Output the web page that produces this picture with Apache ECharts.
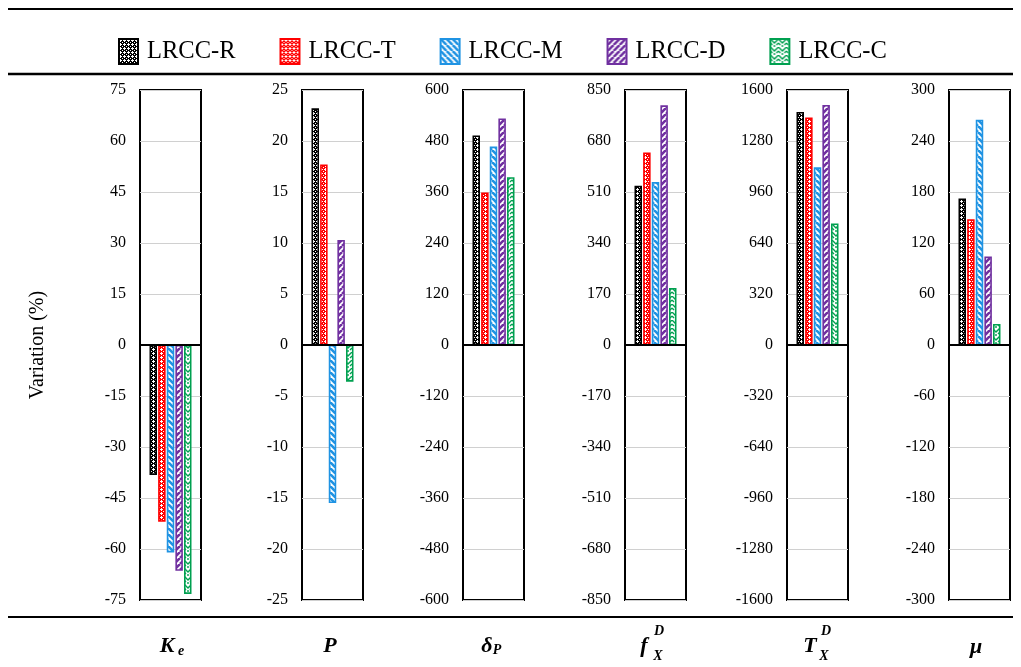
<!DOCTYPE html>
<html><head><meta charset="utf-8">
<script src="https://cdn.jsdelivr.net/npm/echarts@6/dist/echarts.min.js"></script>
<style>html,body{margin:0;padding:0;background:#fff}#c{width:1021px;height:667px}</style>
</head><body><div id="c"></div>
<script>
const seriesNames = ['LRCC-R','LRCC-T','LRCC-M','LRCC-D','LRCC-C'];
const panelMax = [75, 25, 600, 850, 1600, 300];
const panelInterval = [15, 5, 120, 170, 320, 60];
const valsR = [-38.2, 23.2, 493, 531, 1462, 172.5];
const valsT = [-52, 17.7, 359, 642, 1428, 148];
const valsM = [-61, -15.5, 467, 543, 1115, 265];
const valsD = [-66.4, 10.3, 533, 799, 1506, 104];
const valsC = [-73.2, -3.6, 395, 190, 763, 24.7];
const allVals = [valsR, valsT, valsM, valsD, valsC];
const colors = ['#000000', '#ff0000', '#1f93e3', '#7030a0', '#00a050'];

function pat(kind, color) {
  const c = document.createElement('canvas');
  const ctx = c.getContext('2d');
  if (kind === 'dots') {
    c.width = 4; c.height = 4;
    ctx.fillStyle = color; ctx.fillRect(0,0,4,4);
    ctx.fillStyle = '#fff';
    [[1,0],[0,1],[1,1],[2,1],[1,2],[3,3]].forEach(p=>ctx.fillRect(p[0],p[1],1,1));
  } else if (kind === 'back' || kind === 'fwd') {
    c.width = 6; c.height = 6;
    ctx.fillStyle = '#fff'; ctx.fillRect(0,0,6,6);
    ctx.strokeStyle = color; ctx.lineWidth = 2.6;
    for (let k=-6;k<=6;k+=6){
      ctx.beginPath();
      if (kind==='back'){ctx.moveTo(k,0);ctx.lineTo(k+6,6);}
      else {ctx.moveTo(k,6);ctx.lineTo(k+6,0);}
      ctx.stroke();
    }
  } else {
    c.width = 8; c.height = 8;
    ctx.fillStyle = '#fff'; ctx.fillRect(0,0,8,8);
    ctx.strokeStyle = color; ctx.lineWidth = 1.4;
    ctx.beginPath();
    ctx.moveTo(0,0);ctx.lineTo(4,4);ctx.lineTo(8,0);
    ctx.moveTo(0,4);ctx.lineTo(2,6);ctx.moveTo(8,4);ctx.lineTo(6,6);
    ctx.moveTo(4,6);ctx.lineTo(4,8);
    ctx.stroke();
  }
  return {image: c, repeat: 'repeat'};
}
const kinds = ['dots','dots','back','fwd','weave'];
const fills = kinds.map((k,i)=>pat(k, colors[i]));

const grids=[], xAxes=[], yAxes=[], series=[];
const lefts = [140, 302, 463, 625, 787, 949];
for (let p=0;p<6;p++){
  grids.push({left: lefts[p], top: 90, width: 61, height: 510, show: true, borderColor: '#000', borderWidth: 2, backgroundColor: 'transparent', containLabel: false});
  xAxes.push({gridIndex: p, type: 'category', data: ['v'], axisLabel:{show:false}, axisTick:{show:false},
    axisLine:{show:true, onZero:true, lineStyle:{color:'#000', width:2}}, z: 5});
  yAxes.push({gridIndex: p, type: 'value', min: -panelMax[p], max: panelMax[p], interval: panelInterval[p],
    axisLine:{show:false}, axisTick:{show:false},
    splitLine:{show:true, lineStyle:{color:'#d0d0d0', width:1}},
    axisLabel:{fontFamily:'Liberation Serif', fontSize:16, color:'#000', margin:14, formatter: v => String(v)}});
  for (let s=0;s<5;s++){
    series.push({name: seriesNames[s], type:'bar', xAxisIndex:p, yAxisIndex:p,
      data:[allVals[s][p]], barWidth:7.5, barGap:'15%',
      itemStyle:{color: fills[s], borderColor: colors[s], borderWidth:1.6},
      emphasis:{disabled:true}, animation:false});
  }
}

const lab = (txt, x, y, size) => ({type:'text', x, y, style:{text: txt, font: 'italic bold ' + size + 'px "Liberation Serif"', fill:'#000', textAlign:'center', textVerticalAlign:'middle'}});
const graphic = [
  {type:'line', shape:{x1:8,y1:9,x2:1013,y2:9}, style:{stroke:'#000', lineWidth:2}},
  {type:'line', shape:{x1:8,y1:74,x2:1013,y2:74}, style:{stroke:'#000', lineWidth:2.5}},
  {type:'line', shape:{x1:8,y1:617,x2:1013,y2:617}, style:{stroke:'#000', lineWidth:2}},
  {type:'text', x:38, y:345, rotation: Math.PI/2, style:{text:'Variation (%)', font:'20px "Liberation Serif"', fill:'#000', textAlign:'center', textVerticalAlign:'middle'}},
  lab('K', 167, 646, 22), lab('e', 181, 651, 14),
  lab('P', 330, 646, 22),
  lab('δ', 487, 646, 22), lab('P', 497, 650, 14),
  lab('f', 644, 646, 22), lab('D', 659, 631, 14), lab('X', 658, 656, 14),
  lab('T', 810, 646, 22), lab('D', 826, 631, 14), lab('X', 824, 656, 14),
  lab('μ', 976, 647, 22)
];

const chart = echarts.init(document.getElementById('c'), null, {renderer:'canvas'});
chart.setOption({
  animation:false,
  legend:{data: seriesNames, top: 33, left: 113, icon:'rect', itemWidth:19, itemHeight:25, itemGap:44,
    textStyle:{fontFamily:'Liberation Serif', fontSize:24.5, color:'#000', padding:[0,0,0,4]}, selectedMode:false},
  grid: grids, xAxis: xAxes, yAxis: yAxes, series, graphic
});
</script></body></html>
